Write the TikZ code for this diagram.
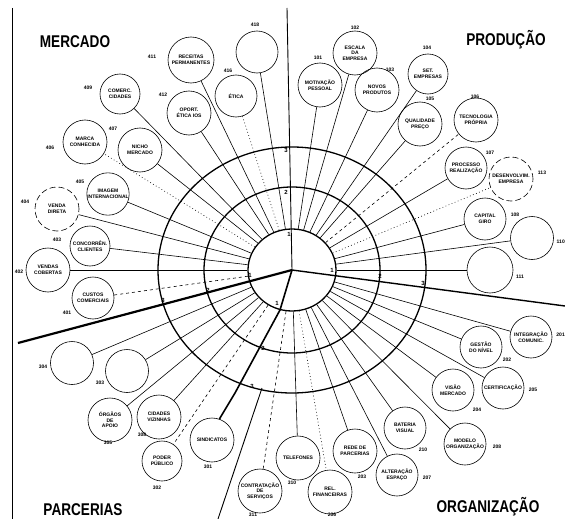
\documentclass[tikz,border=0pt]{standalone}
\usepackage{fontspec}
\usepackage{graphicx}
\setmainfont{Liberation Sans}
\usetikzlibrary{shapes.geometric}
\begin{document}
\begin{tikzpicture}[x=1pt,y=-1pt,
  bub/.style={circle,draw,line width=0.6pt,minimum size=#1,inner sep=0pt,align=center,font=\fontsize{5}{5.6}\selectfont\bfseries},
  bub/.default=43pt,
  dbub/.style={bub=#1,dash pattern=on 6pt off 3pt},
  dbub/.default=44pt,
  num/.style={font=\fontsize{5}{6}\selectfont\bfseries,inner sep=0pt},
  ring/.style={ellipse,draw,line width=1.3pt,inner sep=0pt},
  spoke/.style={line width=0.6pt},
  dotspoke/.style={line width=0.6pt,dash pattern=on 0.8pt off 2.5pt},
  dashspoke/.style={line width=0.6pt,dash pattern=on 3pt off 3pt},
  quad/.style={font=\fontsize{17}{17}\selectfont\bfseries,inner sep=0pt},
  rnum/.style={font=\fontsize{6}{6}\selectfont\bfseries,inner sep=0pt}]
\useasboundingbox (0,0) rectangle (565,519);
% frame line
\coordinate (F1) at (12,8);
\coordinate (F2) at (12,519);
\draw[line width=0.9pt] (F1) -- (F2);
% centre and rings
\coordinate (C) at (292,270);
\node[ring,minimum width=268pt,minimum height=246pt] (outer) at (C) {};
\node[ring,minimum width=176pt,minimum height=166pt] (middle) at (C) {};
\node[ring,minimum width=88pt,minimum height=82pt] (inner) at (C) {};
% quadrant titles
\node[quad] (qm) at (75,42) {\scalebox{0.8}[1]{MERCADO}};
\node[quad] (qp) at (506,40) {\scalebox{0.8}[1]{PRODUÇÃO}};
\node[quad] (qa) at (83,510) {\scalebox{0.8}[1]{PARCERIAS}};
\node[quad] (qo) at (488,507) {\scalebox{0.8}[1]{ORGANIZAÇÃO}};
% MERCADO
\node[bub=46pt] (n1) at (191,60) {RECEITAS\\PERMANENTES};
\node[bub=42pt] (n2) at (257,52) {};
\node[bub=42pt] (n3) at (236,96) {ÉTICA};
\node[bub=44pt] (n4) at (189,113) {OPORT.\\ÉTICA IOS};
\node[bub=40pt] (n5) at (120,94) {COMERC.\\CIDADES};
\node[bub=44pt] (n6) at (140,150) {NICHO\\MERCADO};
\node[bub=44pt] (n7) at (85,142) {MARCA\\CONHECIDA};
\node[bub=42pt] (n8) at (108,194) {IMAGEM\\INTERNACIONAL};
\node[dbub=44pt] (n9) at (57,209) {VENDA\\DIRETA};
\node[bub=40pt] (n10) at (90,246) {CONCORRÊN.\\CLIENTES};
\node[bub=44pt] (n11) at (48,270) {VENDAS\\COBERTAS};
\node[bub=42pt] (n12) at (93,298) {CUSTOS\\COMERCIAIS};
% PARCERIAS
\node[bub=43pt] (n13) at (72,363) {};
\node[bub=43pt] (n14) at (127,371) {};
\node[bub=44pt] (n15) at (110,420) {ÓRGÃOS\\DE\\APOIO};
\node[bub=44pt] (n16) at (159,417) {CIDADES\\VIZINHAS};
\node[bub=40pt] (n17) at (162,461) {PODER\\PÚBLICO};
\node[bub=44pt] (n18) at (212,440) {SINDICATOS};
\node[bub=44pt] (n19) at (260,491) {CONTRATAÇÃO\\DE\\SERVIÇOS};
\node[bub=44pt] (n20) at (298,458) {TELEFONES};
% ORGANIZACAO
\node[bub=44pt] (n21) at (330,492) {REL.\\FINANCEIRAS};
\node[bub=44pt] (n22) at (355,451) {REDE DE\\PARCERIAS};
\node[bub=42pt] (n23) at (397,475) {ALTERAÇÃO\\ESPAÇO};
\node[bub=42pt] (n24) at (405,428) {BATERIA\\VISUAL};
\node[bub=42pt] (n25) at (465,444) {MODELO\\ORGANIZAÇÃO};
\node[bub=42pt] (n26) at (453,390) {VISÃO\\MERCADO};
\node[bub=42pt] (n27) at (503,388) {CERTIFICAÇÃO};
\node[bub=42pt] (n28) at (481,347) {GESTÃO\\DO NÍVEL};
\node[bub=42pt] (n29) at (531,337) {INTEGRAÇÃO\\COMUNIC.};
% PRODUCAO
\node[bub=46pt] (n30) at (490,270) {};
\node[bub=43pt] (n31) at (532,238) {};
\node[bub=42pt] (n32) at (485,219) {CAPITAL\\GIRO};
\node[dbub=44pt] (n33) at (511,179) {DESENVOLVIM.\\EMPRESA};
\node[bub=42pt] (n34) at (466,168) {PROCESSO\\REALIZAÇÃO};
\node[bub=44pt] (n35) at (476,120) {TECNOLOGIA\\PRÓPRIA};
\node[bub=44pt] (n36) at (420,124) {QUALIDADE\\PREÇO};
\node[bub=40pt] (n37) at (428,74) {SET.\\EMPRESAS};
\node[bub=44pt] (n38) at (377,90) {NOVOS\\PRODUTOS};
\node[bub=44pt] (n39) at (355,53) {ESCALA\\DA\\EMPRESA};
\node[bub=44pt] (n40) at (320,85) {MOTIVAÇÃO\\PESSOAL};
% spokes
\foreach \n in {n1,n2,n4,n5,n6,n8,n9,n10,n11,n13,n14,n15,n16,n20,n22,n23,n24,n25,n26,n27,n28,n29,n30,n31,n32,n34,n36,n37,n38,n39,n40}
  \draw[spoke] (inner) -- (\n);
\foreach \n in {n3,n7,n21,n33}
  \draw[dotspoke] (inner) -- (\n);
\foreach \n in {n12,n17,n19,n35}
  \draw[dashspoke] (inner) -- (\n);
% axes
\coordinate (T) at (287,8);
\coordinate (R) at (565,306);
\coordinate (L) at (18,343);
\coordinate (B1) at (262,388);
\coordinate (B2) at (218,519);
\coordinate (K1) at (280,310);
\coordinate (K2) at (235,393);
\coordinate (K3) at (220,418);
\draw[line width=0.9pt] (C) -- (T);
\draw[line width=1.4pt] (C) -- (R);
\draw[line width=2.2pt] (C) -- (L);
\draw[line width=0.9pt] (B1) -- (B2);
\draw[line width=1.6pt] (C) -- (K1) -- (K2) -- (K3) -- (n18);
% ring numbers
\node[rnum] (t1) at (289,234) {1};
\node[rnum] (t2) at (286,192) {2};
\node[rnum] (t3) at (286,150) {3};
\node[rnum] (e1) at (332,270) {1};
\node[rnum] (e2) at (380,276) {2};
\node[rnum] (e3) at (423,283) {3};
\node[rnum] (w1) at (250,275) {1};
\node[rnum] (w2) at (208,290) {2};
\node[rnum] (w3) at (163,300) {3};
\node[rnum] (s1) at (277,303) {1};
\node[rnum] (s2) at (263,348) {2};
\node[rnum] (s3) at (252,386) {3};
% node numbers
\node[num] (l1) at (152,57) {411};
\node[num] (l2) at (255,25) {418};
\node[num] (l3) at (228,71) {416};
\node[num] (l4) at (163,95) {412};
\node[num] (l5) at (88,88) {409};
\node[num] (l6) at (113,129) {407};
\node[num] (l7) at (50,148) {406};
\node[num] (l8) at (80,182) {405};
\node[num] (l9) at (25,202) {404};
\node[num] (l10) at (57,240) {403};
\node[num] (l11) at (19,272) {402};
\node[num] (l12) at (67,313) {401};
\node[num] (l13) at (43,367) {304};
\node[num] (l14) at (100,383) {303};
\node[num] (l15) at (108,443) {305};
\node[num] (l16) at (142,435) {308};
\node[num] (l17) at (157,488) {302};
\node[num] (l18) at (208,467) {301};
\node[num] (l19) at (253,515) {311};
\node[num] (l20) at (292,483) {310};
\node[num] (l21) at (332,515) {206};
\node[num] (l22) at (362,477) {203};
\node[num] (l23) at (427,478) {207};
\node[num] (l24) at (423,450) {210};
\node[num] (l25) at (497,447) {208};
\node[num] (l26) at (477,410) {204};
\node[num] (l27) at (533,390) {205};
\node[num] (l28) at (507,360) {202};
\node[num,anchor=east] (l29) at (565,335) {201};
\node[num] (l30) at (520,277) {111};
\node[num,anchor=east] (l31) at (565,242) {110};
\node[num] (l32) at (515,215) {108};
\node[num] (l33) at (542,173) {113};
\node[num] (l34) at (490,153) {107};
\node[num] (l35) at (475,97) {106};
\node[num] (l36) at (430,99) {105};
\node[num] (l37) at (427,48) {104};
\node[num] (l38) at (390,70) {103};
\node[num] (l39) at (355,28) {102};
\node[num] (l40) at (318,58) {101};
\end{tikzpicture}
\end{document}
